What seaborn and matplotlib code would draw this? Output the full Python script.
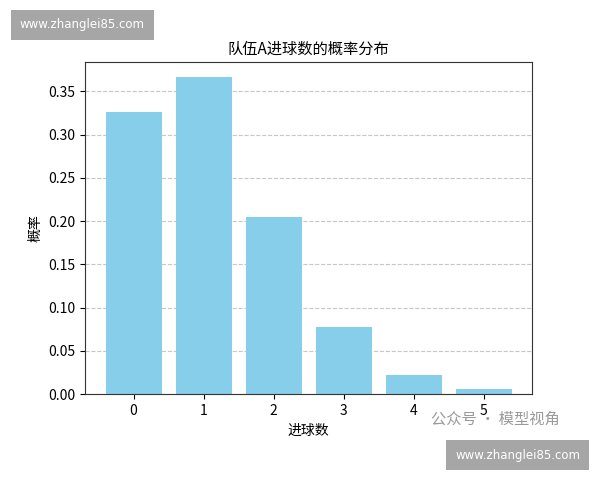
import matplotlib
matplotlib.use("Agg")
import matplotlib.pyplot as plt
import numpy as np
import pandas as pd
import seaborn as sns

plt.rcParams['font.family'] = ['Noto Sans CJK SC', 'DejaVu Sans']
plt.rcParams['axes.unicode_minus'] = False

# 进球数及其概率
goals = [0, 1, 2, 3, 4, 5]
probs = [0.326, 0.366, 0.205, 0.077, 0.022, 0.006]

df = pd.DataFrame({'goals': goals, 'prob': probs})

fig, ax = plt.subplots(figsize=(6, 4.8), dpi=100)
fig.subplots_adjust(left=0.142, right=0.887, top=0.871, bottom=0.179)

sns.barplot(data=df, x='goals', y='prob', color='skyblue', saturation=1,
            width=0.8, ax=ax, zorder=2)
ax.grid(axis='y', linestyle='--', alpha=0.7, zorder=0)
ax.set_axisbelow(True)
ax.set_title('队伍A进球数的概率分布', fontsize=11)
ax.set_xlabel('进球数', fontsize=10)
ax.set_ylabel('概率', fontsize=10)
ax.set_xlim(-0.5 - 0.19, 5 + 0.5 + 0.19)
ax.set_ylim(0, 0.384)
for s in ax.spines.values():
    s.set_color('#333333')

# 水印
box = dict(boxstyle='square,pad=0.75', facecolor='#a6a6a6', edgecolor='none')
fig.text(0.1375, 0.948, 'www.zhanglei85.com', color='white', fontsize=8.5,
         ha='center', va='center', bbox=box, family=['DejaVu Sans'])
fig.text(0.8625, 0.052, 'www.zhanglei85.com', color='white', fontsize=8.5,
         ha='center', va='center', bbox=box, family=['DejaVu Sans'])
fig.text(0.826, 0.127, '公众号 · 模型视角', color='#9a9a9a', fontsize=11,
         ha='center', va='center')

fig.savefig('out.png', dpi=100)
